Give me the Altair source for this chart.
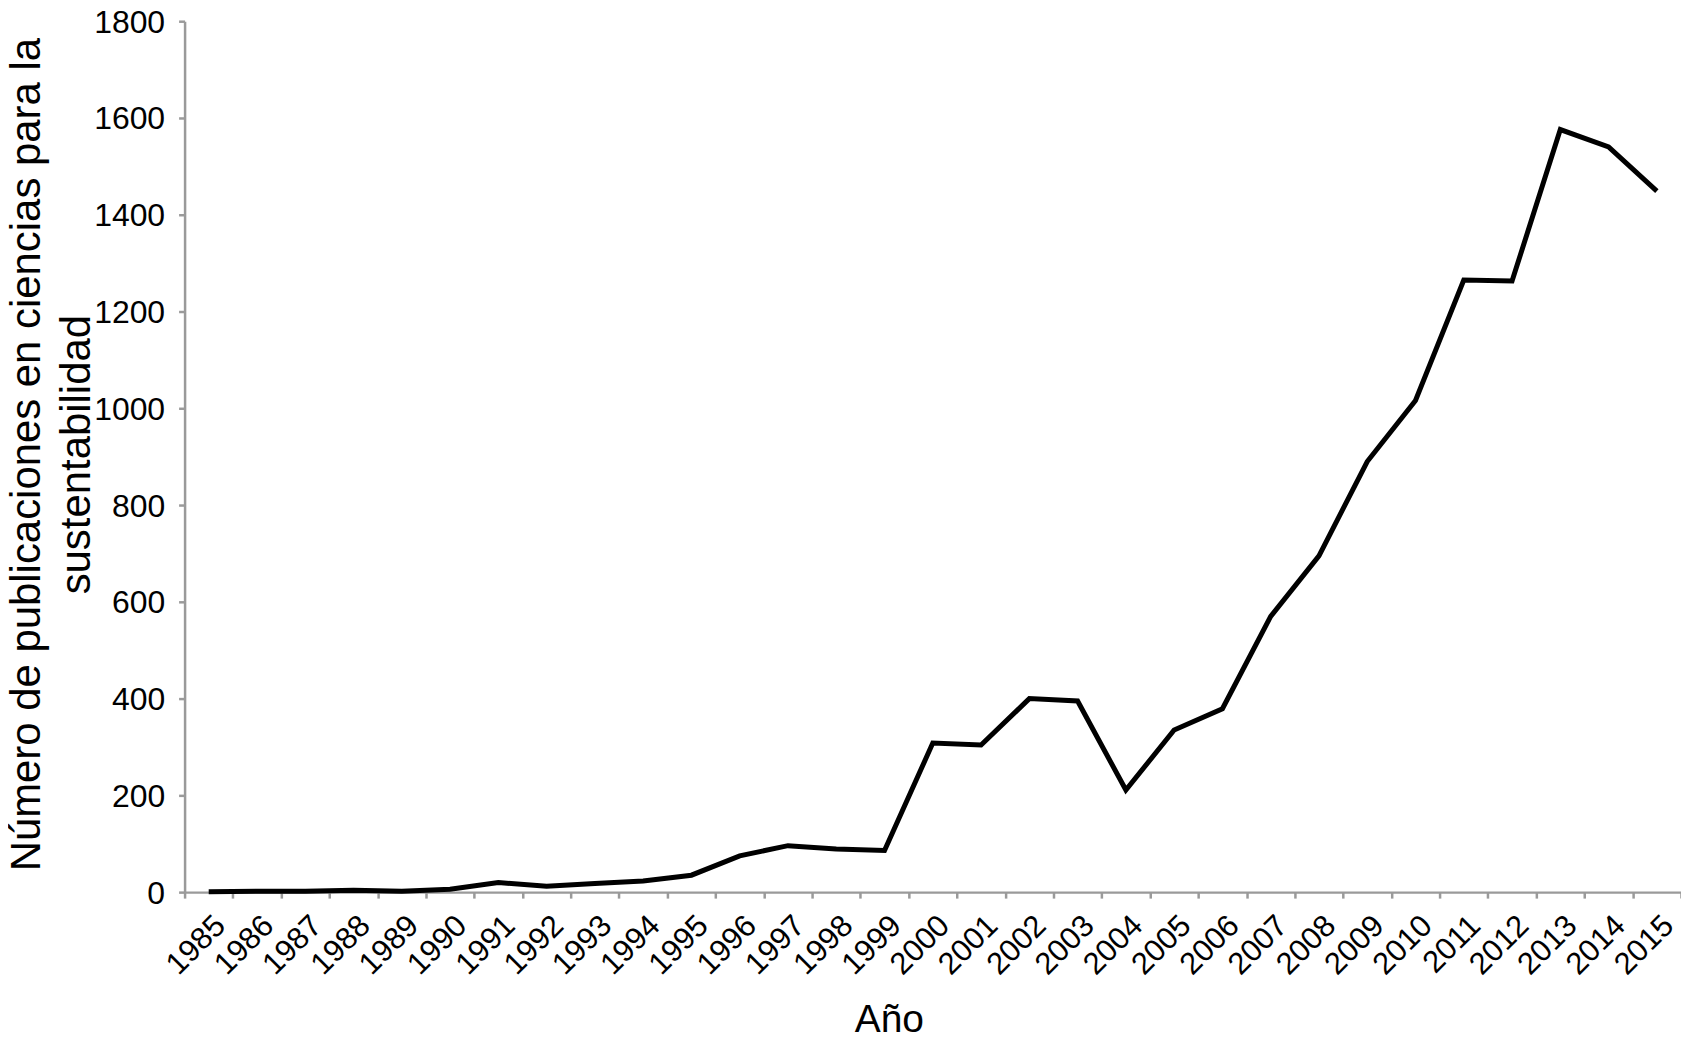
import altair as alt
import pandas as pd

years = ["1985", "1986", "1987", "1988", "1989", "1990", "1991", "1992", "1993",
         "1994", "1995", "1996", "1997", "1998", "1999", "2000", "2001", "2002",
         "2003", "2004", "2005", "2006", "2007", "2008", "2009", "2010", "2011",
         "2012", "2013", "2014", "2015"]
publications = [1, 2, 2, 4, 2, 6, 20, 12, 18, 23, 35, 75, 96, 89, 86, 308, 304,
                400, 395, 211, 335, 379, 570, 695, 890, 1016, 1265, 1263, 1576,
                1540, 1449]
y_ticks = [0, 200, 400, 600, 800, 1000, 1200, 1400, 1600, 1800]

df = pd.DataFrame({"year": years, "value": publications})

FONT = "Liberation Sans"
AXIS_GREY = "#9a9a9a"

chart = alt.Chart(df).mark_line(color="black", strokeWidth=5).encode(
    x=alt.X(
        "year:O",
        sort=years,
        bandPosition=0.5,
        scale=alt.Scale(type="band", paddingInner=0, paddingOuter=0),
        axis=alt.Axis(
            title="Año",
            labelAngle=-45,
            labelAlign="right",
            labelBaseline="top",
            labelOffset=1,
            labelPadding=12,
            tickBand="extent",
            tickSize=6,
            tickWidth=2.5,
            tickColor=AXIS_GREY,
            domainColor=AXIS_GREY,
            domainWidth=2.5,
            labelFont=FONT,
            labelFontSize=31,
            labelColor="black",
            labelOverlap=False,
            titleFont=FONT,
            titleFontSize=39,
            titleFontWeight="normal",
            titleColor="black",
            titleX=706,
            titleY=140,
            titleBaseline="alphabetic",
            titleAlign="center",
            grid=False,
        ),
    ),
    y=alt.Y(
        "value:Q",
        scale=alt.Scale(domain=[0, 1800], nice=False),
        axis=alt.Axis(
            title=["Número de publicaciones en ciencias para la", "sustentabilidad"],
            values=y_ticks,
            format="d",
            tickSize=6,
            tickWidth=2.5,
            tickColor=AXIS_GREY,
            domainColor=AXIS_GREY,
            domainWidth=2.5,
            labelFont=FONT,
            labelFontSize=32,
            labelColor="black",
            labelPadding=14,
            labelOffset=1,
            titleFont=FONT,
            titleFontSize=42,
            titleFontWeight="normal",
            titleColor="black",
            titleLineHeight=50,
            titleX=-145,
            titleY=434,
            titleBaseline="alphabetic",
            grid=False,
        ),
    ),
).properties(
    width=1500,
    height=873,
    padding={"left": 177, "top": 12, "right": 0, "bottom": 150},
    autosize=alt.AutoSizeParams(type="none"),
).configure_view(stroke=None)

chart.save("out.html", embed_options={"renderer": "svg", "actions": False})
